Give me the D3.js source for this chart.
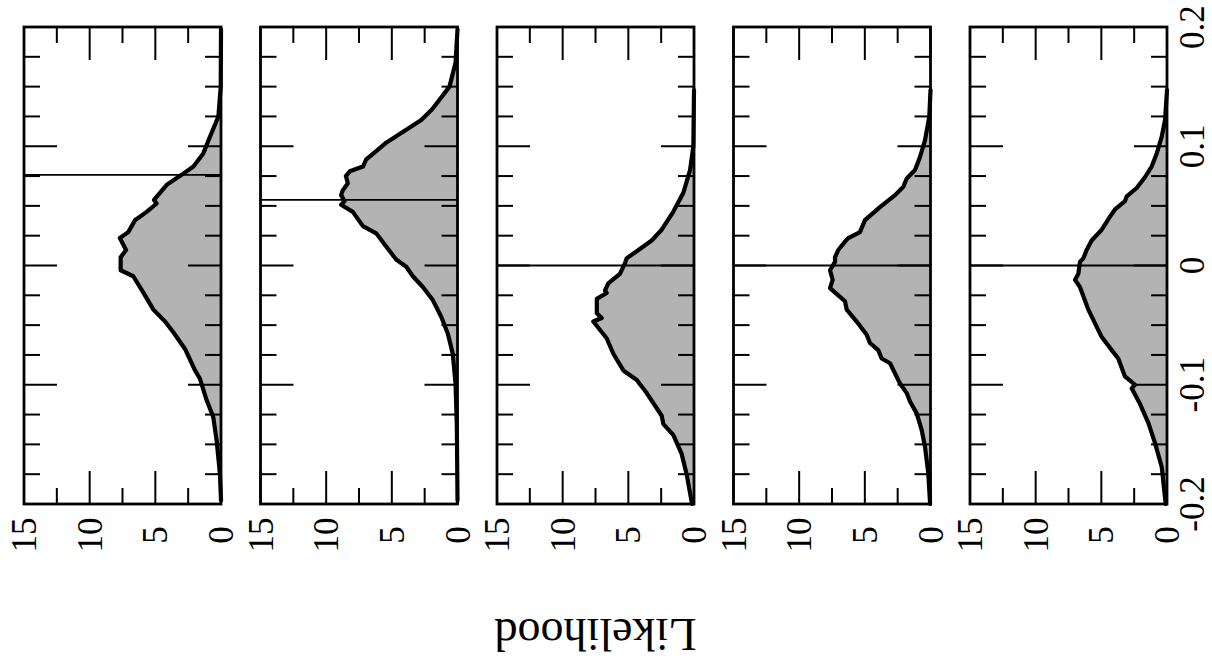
<!DOCTYPE html>
<html>
<head>
<meta charset="utf-8">
<script src="https://cdn.jsdelivr.net/npm/d3@7"></script>
<style>
  html, body { margin: 0; padding: 0; background: #fff; }
  svg { display: block; }
</style>
</head>
<body>
<svg id="chart" width="1212" height="662"></svg>
<script>
// Parameter values (vertical axis) and likelihood scale (horizontal axis)
const paramTicks = [-0.2, -0.1, 0, 0.1, 0.2];
const paramTickLabels = ["-0.2", "-0.1", "0", "0.1", "0.2"];
const likeTicks = [0, 5, 10, 15];
const likeTickLabels = ["0", "5", "10", "15"];

// Reference value marked in each panel
const refValues = [0.076, 0.055, 0, 0, 0];

// Likelihood profiles: [parameter value, likelihood]
const density1 = [[-0.197,0],[-0.175,0.08],[-0.147,0.33],[-0.127,0.59],[-0.113,1.09],[-0.095,1.6],[-0.088,1.98],[-0.070,2.74],[-0.056,3.63],[-0.047,4.26],[-0.037,5.15],[-0.023,5.9],[-0.009,6.68],[-0.004,7.64],[0.007,7.64],[0.013,7.23],[0.023,7.7],[0.028,7.06],[0.038,6.55],[0.045,5.66],[0.052,4.9],[0.055,5.1],[0.068,4.1],[0.076,3.0],[0.083,2.1],[0.094,1.35],[0.108,0.84],[0.125,0.2],[0.150,0.02],[0.198,0]];
const density2 = [[-0.197,0],[-0.135,0.05],[-0.099,0.15],[-0.074,0.36],[-0.057,0.74],[-0.043,1.24],[-0.029,1.88],[-0.018,2.64],[-0.009,3.4],[-0.001,3.9],[0.005,4.67],[0.016,5.43],[0.027,6.19],[0.033,7.2],[0.045,7.97],[0.051,8.86],[0.054,8.6],[0.059,8.86],[0.063,8.74],[0.069,8.35],[0.075,8.5],[0.079,8.2],[0.083,7.2],[0.089,6.95],[0.096,6.19],[0.103,5.43],[0.112,4.17],[0.122,2.76],[0.131,1.93],[0.139,1.37],[0.150,0.61],[0.170,0.15],[0.198,0]];
const density3 = [[-0.2,0.15],[-0.175,0.56],[-0.158,0.94],[-0.142,1.58],[-0.133,2.33],[-0.126,2.46],[-0.107,3.6],[-0.096,4.36],[-0.088,5.38],[-0.074,6.14],[-0.061,6.65],[-0.047,7.67],[-0.044,7.03],[-0.040,7.4],[-0.028,7.4],[-0.023,6.65],[-0.021,6.78],[-0.015,6.53],[-0.007,5.64],[0.002,5.25],[0.006,5.13],[0.012,4.36],[0.021,3.22],[0.030,2.46],[0.045,1.58],[0.061,0.81],[0.080,0.3],[0.100,0.05],[0.147,0]];
const density4 = [[-0.2,0.03],[-0.174,0.17],[-0.152,0.42],[-0.138,0.67],[-0.124,1.05],[-0.114,1.56],[-0.107,1.81],[-0.099,2.32],[-0.082,3.08],[-0.078,3.72],[-0.071,3.98],[-0.065,4.61],[-0.058,4.86],[-0.047,5.62],[-0.037,6.38],[-0.030,6.51],[-0.025,7.02],[-0.019,7.65],[-0.012,7.45],[-0.004,7.65],[0.003,7.27],[0.007,7.27],[0.013,7.02],[0.020,6.51],[0.023,6.26],[0.028,5.37],[0.038,4.99],[0.049,3.85],[0.059,2.7],[0.066,2.07],[0.073,1.81],[0.080,1.18],[0.091,0.8],[0.105,0.42],[0.125,0.09],[0.147,0]];
const density5 = [[-0.2,0.1],[-0.169,0.4],[-0.149,0.91],[-0.132,1.42],[-0.116,2.06],[-0.103,2.69],[-0.100,2.44],[-0.093,3.2],[-0.078,3.71],[-0.071,4.21],[-0.060,4.97],[-0.037,5.99],[-0.018,6.63],[-0.012,7.0],[-0.007,6.75],[0.003,6.63],[0.006,6.37],[0.013,6.12],[0.021,5.74],[0.030,4.97],[0.041,4.34],[0.047,3.96],[0.054,3.2],[0.058,3.07],[0.065,2.31],[0.074,1.68],[0.083,1.17],[0.094,0.78],[0.108,0.4],[0.122,0.15],[0.147,0]];
const densities = [density1, density2, density3, density4, density5];

const axisTitle = "Likelihood";
const serifFont = "'Liberation Serif', Tinos, 'Times New Roman', Times, 'DejaVu Serif', serif";

// Layout: panels placed side by side, the whole figure turned a quarter turn
const svg = d3.select("#chart");
const panelW = 197, panelStep = 236.5, firstLeft = 24;
const plotTop = 27, plotBottom = 504;

const yv = d3.scaleLinear().domain([-0.2, 0.2]).range([plotBottom, plotTop]);
const minorParam = d3.range(-0.2, 0.2001, 0.025).map(v => +v.toFixed(3));
const minorLike = d3.range(0, 15.01, 2.5);

densities.forEach((data, i) => {
  const left = firstLeft + i * panelStep, right = left + panelW;
  const xl = d3.scaleLinear().domain([0, 15]).range([right, left]);
  const g = svg.append("g");

  const area = d3.area().y(d => yv(d[0])).x0(xl(0)).x1(d => xl(d[1]));
  const line = d3.line().y(d => yv(d[0])).x(d => xl(d[1]));

  g.append("path").datum(data).attr("d", area)
    .attr("fill", "#b3b3b3").attr("stroke", "none");

  g.append("line")
    .attr("x1", xl(15)).attr("x2", xl(0))
    .attr("y1", yv(refValues[i])).attr("y2", yv(refValues[i]))
    .attr("stroke", "#000").attr("stroke-width", 1.8);

  g.append("path").datum(data).attr("d", line)
    .attr("fill", "none").attr("stroke", "#000").attr("stroke-width", 4.2)
    .attr("stroke-linejoin", "round").attr("stroke-linecap", "round");

  // ticks for parameter values on both long edges
  const isMajorP = v => Math.abs(v * 10 - Math.round(v * 10)) < 1e-6;
  minorParam.forEach(v => {
    const len = isMajorP(v) ? 33 : 16;
    g.append("line").attr("x1", left).attr("x2", left + len)
      .attr("y1", yv(v)).attr("y2", yv(v)).attr("stroke", "#000").attr("stroke-width", 2);
    g.append("line").attr("x1", right).attr("x2", right - len)
      .attr("y1", yv(v)).attr("y2", yv(v)).attr("stroke", "#000").attr("stroke-width", 2);
  });
  // ticks for likelihood on both short edges
  minorLike.forEach(t => {
    const len = (t % 5 === 0) ? 33 : 16;
    g.append("line").attr("x1", xl(t)).attr("x2", xl(t))
      .attr("y1", plotTop).attr("y2", plotTop + len).attr("stroke", "#000").attr("stroke-width", 2);
    g.append("line").attr("x1", xl(t)).attr("x2", xl(t))
      .attr("y1", plotBottom).attr("y2", plotBottom - len).attr("stroke", "#000").attr("stroke-width", 2);
  });

  g.append("rect").attr("x", left).attr("y", plotTop).attr("width", panelW).attr("height", plotBottom - plotTop)
    .attr("fill", "none").attr("stroke", "#000").attr("stroke-width", 2.8);

  // likelihood tick labels
  likeTicks.forEach((t, k) => {
    svg.append("text")
      .attr("transform", `translate(${xl(t) + 12},535) rotate(-90)`)
      .attr("text-anchor", "middle")
      .attr("font-family", serifFont)
      .attr("font-size", 35)
      .attr("fill", "#000")
      .text(likeTickLabels[k]);
  });
});

// parameter tick labels along the right side
paramTicks.forEach((v, k) => {
  svg.append("text")
    .attr("transform", `translate(1204,${yv(v)}) rotate(-90)`)
    .attr("text-anchor", "middle")
    .attr("font-family", serifFont)
    .attr("font-size", 35)
    .attr("fill", "#000")
    .text(paramTickLabels[k]);
});

// axis title, upside down beneath the panels
svg.append("text")
  .attr("transform", `translate(${firstLeft + 2 * panelStep + panelW / 2},619) rotate(180)`)
  .attr("text-anchor", "middle")
  .attr("font-family", serifFont)
  .attr("font-size", 46)
  .attr("fill", "#000")
  .text(axisTitle);
</script>
</body>
</html>
